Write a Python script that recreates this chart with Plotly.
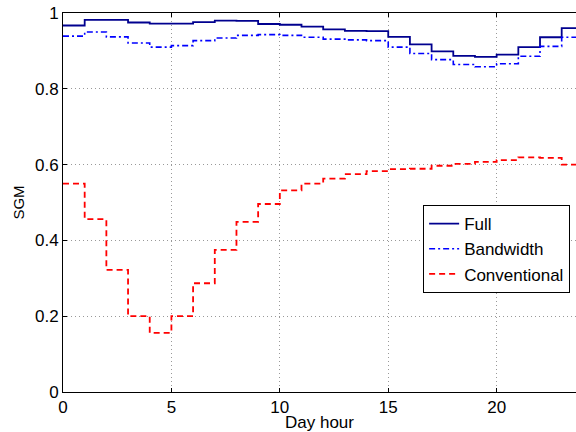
import plotly.graph_objects as go

hours = list(range(25))
full = [0.967, 0.982, 0.982, 0.975, 0.972, 0.972, 0.976, 0.980, 0.979, 0.971,
        0.969, 0.964, 0.957, 0.953, 0.952, 0.937, 0.917, 0.899, 0.887, 0.884,
        0.890, 0.910, 0.936, 0.960]
bandwidth = [0.939, 0.950, 0.937, 0.921, 0.910, 0.914, 0.927, 0.934, 0.941, 0.943,
             0.941, 0.936, 0.931, 0.929, 0.927, 0.910, 0.893, 0.877, 0.864, 0.858,
             0.866, 0.886, 0.912, 0.936]
conventional = [0.550, 0.456, 0.322, 0.200, 0.156, 0.200, 0.287, 0.375, 0.449, 0.496,
                0.532, 0.550, 0.563, 0.575, 0.583, 0.588, 0.589, 0.597, 0.602, 0.607,
                0.612, 0.619, 0.618, 0.600]

# repeat the last hourly value so the final step closes at hour 24
full_s = full + [full[-1]]
bandwidth_s = bandwidth + [bandwidth[-1]]
conventional_s = conventional + [conventional[-1]]

fig = go.Figure()
fig.add_trace(go.Scatter(x=hours, y=full_s, mode="lines", name="Full",
                         line=dict(shape="hv", color="#00008F", width=1.8)))
fig.add_trace(go.Scatter(x=hours, y=bandwidth_s, mode="lines", name="Bandwidth",
                         line=dict(shape="hv", color="#0000FF", width=1.6, dash="6px,3px,2px,3px")))
fig.add_trace(go.Scatter(x=hours, y=conventional_s, mode="lines", name="Conventional",
                         line=dict(shape="hv", color="#FF0000", width=1.8, dash="6px,4px")))

font = "Liberation Sans, Arial, sans-serif"
fig.update_layout(
    width=576, height=432,
    margin=dict(l=62.5, r=0, t=12.7, b=40),
    plot_bgcolor="white", paper_bgcolor="white",
    font=dict(family=font, size=17, color="black"),
    showlegend=True,
    legend=dict(x=0.702, y=0.493, xanchor="left", yanchor="top",
                bordercolor="black", borderwidth=1, bgcolor="white",
                font=dict(size=17, family=font), tracegroupgap=0,
                itemwidth=30),
    xaxis=dict(range=[0, 23.66], tickvals=[0, 5, 10, 15, 20],
               showline=True, linecolor="black", linewidth=1, mirror="ticks",
               ticks="inside", ticklen=4, tickcolor="black",
               showgrid=True, gridcolor="#999999", griddash="1px,3px", gridwidth=1,
               zeroline=False, automargin=False,
               title=dict(text="Day hour", font=dict(size=17), standoff=0),
               tickfont=dict(size=17)),
    yaxis=dict(range=[0, 1], tickvals=[0, 0.2, 0.4, 0.6, 0.8, 1],
               ticktext=["0", "0.2", "0.4", "0.6", "0.8", "1"],
               showline=True, linecolor="black", linewidth=1, mirror=False,
               ticks="inside", ticklen=4, tickcolor="black",
               showgrid=True, gridcolor="#999999", griddash="1px,3px", gridwidth=1,
               zeroline=False, automargin=False,
               title=dict(text="SGM", font=dict(size=15), standoff=6),
               tickfont=dict(size=17)),
)

fig.write_html("out.html", config={"displayModeBar": False},
               post_script="document.body.style.margin='0';")
